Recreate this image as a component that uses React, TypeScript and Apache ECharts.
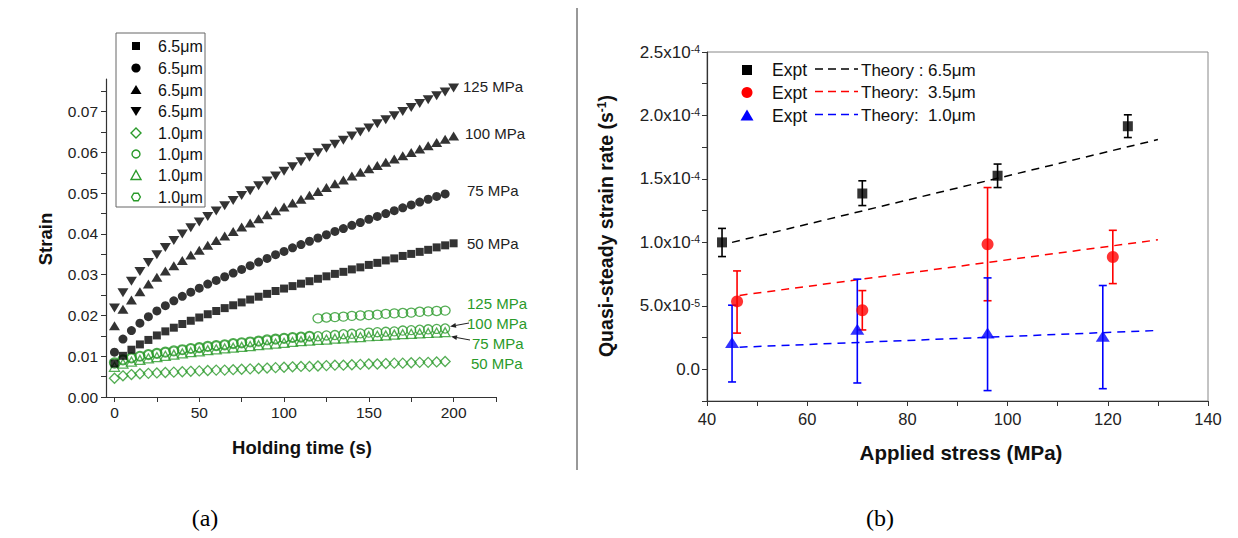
import React, { useEffect, useRef } from "react";
import * as echarts from "echarts";

// ---------- Panel (a): strain vs holding time ----------
const T = [0, 5, 10, 15, 20, 25, 30, 35, 40, 45, 50, 55, 60, 65, 70, 75, 80, 85, 90, 95, 100, 105, 110, 115, 120, 125, 130, 135, 140, 145, 150, 155, 160, 165, 170, 175, 180, 185, 190, 195, 200];

// 6.5 µm (black, filled)
const black50 = [0.0082, 0.0101, 0.0116, 0.0129, 0.0140, 0.0151, 0.0161, 0.0170, 0.0179, 0.0187, 0.0195, 0.0203, 0.0211, 0.0218, 0.0225, 0.0232, 0.0239, 0.0246, 0.0253, 0.0260, 0.0266, 0.0272, 0.0278, 0.0284, 0.0290, 0.0296, 0.0302, 0.0307, 0.0313, 0.0318, 0.0324, 0.0329, 0.0335, 0.0340, 0.0346, 0.0351, 0.0356, 0.0361, 0.0367, 0.0372, 0.0377];
const black75 = [0.0110, 0.0142, 0.0163, 0.0181, 0.0197, 0.0211, 0.0224, 0.0236, 0.0247, 0.0257, 0.0267, 0.0277, 0.0286, 0.0295, 0.0304, 0.0313, 0.0322, 0.0331, 0.0340, 0.0349, 0.0357, 0.0366, 0.0374, 0.0382, 0.0390, 0.0398, 0.0406, 0.0413, 0.0421, 0.0428, 0.0436, 0.0443, 0.0450, 0.0457, 0.0464, 0.0471, 0.0478, 0.0485, 0.0492, 0.0498];
const black100 = [0.0175, 0.0215, 0.0238, 0.0258, 0.0277, 0.0294, 0.0309, 0.0322, 0.0335, 0.0348, 0.0360, 0.0372, 0.0384, 0.0395, 0.0406, 0.0417, 0.0427, 0.0437, 0.0447, 0.0457, 0.0466, 0.0476, 0.0485, 0.0495, 0.0504, 0.0514, 0.0523, 0.0532, 0.0542, 0.0551, 0.0560, 0.0568, 0.0576, 0.0584, 0.0592, 0.0600, 0.0608, 0.0616, 0.0624, 0.0632, 0.0640];
const black125 = [0.0218, 0.0256, 0.0284, 0.0308, 0.0330, 0.0349, 0.0367, 0.0384, 0.0400, 0.0415, 0.0429, 0.0443, 0.0456, 0.0469, 0.0482, 0.0494, 0.0506, 0.0518, 0.0530, 0.0542, 0.0554, 0.0565, 0.0577, 0.0588, 0.0599, 0.0610, 0.0620, 0.0630, 0.0640, 0.0650, 0.0660, 0.0670, 0.0680, 0.0690, 0.0700, 0.0710, 0.0720, 0.0729, 0.0739, 0.0748, 0.0758];

// 1.0 µm (green, open)
const green50 = [0.0046, 0.0052, 0.0055, 0.0057, 0.0058, 0.0059, 0.0060, 0.0061, 0.0062, 0.0063, 0.0064, 0.0065, 0.0066, 0.0066, 0.0067, 0.0068, 0.0069, 0.0070, 0.0071, 0.0072, 0.0073, 0.0074, 0.0075, 0.0075, 0.0076, 0.0077, 0.0078, 0.0078, 0.0079, 0.0080, 0.0081, 0.0081, 0.0082, 0.0083, 0.0083, 0.0084, 0.0085, 0.0085, 0.0086, 0.0087];
const green75 = [0.0074, 0.0082, 0.0087, 0.0091, 0.0095, 0.0098, 0.0101, 0.0104, 0.0107, 0.0110, 0.0112, 0.0115, 0.0117, 0.0119, 0.0121, 0.0123, 0.0125, 0.0127, 0.0129, 0.0131, 0.0133, 0.0135, 0.0137, 0.0138, 0.0140, 0.0141, 0.0143, 0.0144, 0.0146, 0.0147, 0.0149, 0.0150, 0.0151, 0.0153, 0.0154, 0.0155, 0.0156, 0.0157, 0.0158, 0.0159];
const green100 = [0.0082, 0.0090, 0.0095, 0.0099, 0.0103, 0.0106, 0.0109, 0.0112, 0.0115, 0.0118, 0.0120, 0.0123, 0.0125, 0.0127, 0.0130, 0.0132, 0.0134, 0.0136, 0.0139, 0.0141, 0.0143, 0.0145, 0.0146, 0.0148, 0.0149, 0.0151, 0.0152, 0.0154, 0.0155, 0.0156, 0.0158, 0.0159, 0.0160, 0.0161, 0.0163, 0.0164, 0.0165, 0.0166, 0.0167, 0.0168];
const green125 = [0.0085, 0.0092, 0.0097, 0.0101, 0.0105, 0.0108, 0.0111, 0.0114, 0.0117, 0.0120, 0.0122, 0.0125, 0.0127, 0.0129, 0.0132, 0.0134, 0.0136, 0.0138, 0.0141, 0.0143, 0.0145, 0.0147, 0.0148, 0.0150, 0.0193, 0.0195, 0.0196, 0.0197, 0.0199, 0.0200, 0.0201, 0.0202, 0.0204, 0.0205, 0.0206, 0.0207, 0.0209, 0.0210, 0.0211, 0.0212];

const A_X_TICKS = [0, 25, 50, 75, 100, 125, 150, 175, 200, 225];
const A_X_LABELS = [0, 50, 100, 150, 200];
const A_Y_TICKS = [0, 0.005, 0.01, 0.015, 0.02, 0.025, 0.03, 0.035, 0.04, 0.045, 0.05, 0.055, 0.06, 0.065, 0.07, 0.075];
const A_Y_LABELS = [0, 0.01, 0.02, 0.03, 0.04, 0.05, 0.06, 0.07];

// ---------- Panel (b): strain rate vs applied stress ----------
const exptBlackX = [43, 71, 98, 124];
const exptBlackY = [1.0e-4, 1.385e-4, 1.525e-4, 1.915e-4];
const exptBlackLo = [0.888e-4, 1.29e-4, 1.432e-4, 1.826e-4];
const exptBlackHi = [1.11e-4, 1.485e-4, 1.617e-4, 2.005e-4];

const exptRedX = [46, 71, 96, 121];
const exptRedY = [5.35e-5, 4.65e-5, 9.85e-5, 8.85e-5];
const exptRedLo = [2.85e-5, 3.1e-5, 5.4e-5, 6.75e-5];
const exptRedHi = [7.75e-5, 6.2e-5, 1.432e-4, 1.095e-4];

const exptBlueX = [45, 70, 96, 119];
const exptBlueY = [2.1e-5, 3.15e-5, 2.85e-5, 2.6e-5];
const exptBlueLo = [-1.0e-5, -1.08e-5, -1.68e-5, -1.53e-5];
const exptBlueHi = [5.05e-5, 7.1e-5, 7.2e-5, 6.6e-5];

const theoryBlackX = [45, 130];
const theoryBlackY = [1.0e-4, 1.81e-4];
const theoryRedX = [46.5, 130];
const theoryRedY = [5.82e-5, 1.02e-4];
const theoryBlueX = [46.5, 130];
const theoryBlueY = [1.74e-5, 3.06e-5];

const B_X_TICKS = [40, 50, 60, 70, 80, 90, 100, 110, 120, 130, 140];
const B_X_LABELS = [40, 60, 80, 100, 120, 140];
const B_Y_TICKS = [-2.5e-5, 0, 2.5e-5, 5e-5, 7.5e-5, 1e-4, 1.25e-4, 1.5e-4, 1.75e-4, 2e-4, 2.25e-4, 2.5e-4];
const B_Y_LABELS = [0, 5e-5, 1e-4, 1.5e-4, 2e-4, 2.5e-4];

const GREEN = "#2a9a2a";
const FONT = '"Liberation Sans", Arial, sans-serif';
const AX = "#333";

const pairs = (xs: number[], ys: number[]) => ys.map((y, i) => [xs[i], y]);

function txt(text: string, x: number, y: number, o: any = {}) {
  const align = o.align || "left";
  return {
    type: "text",
    x,
    y,
    rotation: o.rot || 0,
    z: 100,
    style: {
      text,
      fill: o.color || "#222",
      font: o.font || `15px ${FONT}`,
      align,
      verticalAlign: "middle",
      textAlign: align,
      textVerticalAlign: "middle",
      rich: o.rich,
    },
  };
}

function arrow(x1: number, y1: number, x2: number, y2: number) {
  const dx = x2 - x1, dy = y2 - y1;
  const L = Math.hypot(dx, dy);
  const ux = dx / L, uy = dy / L;
  const len = 6, half = 2.4;
  const bx = x2 - ux * len, by = y2 - uy * len;
  return [
    { type: "line", z: 100, shape: { x1, y1, x2: bx, y2: by }, style: { stroke: "#222", lineWidth: 1 } },
    {
      type: "polygon",
      z: 100,
      shape: { points: [[x2, y2], [bx - uy * half, by + ux * half], [bx + uy * half, by - ux * half]] },
      style: { fill: "#222" },
    },
  ];
}

function errSeries(xs: number[], lo: number[], hi: number[], color: string) {
  return {
    type: "custom",
    xAxisIndex: 1,
    yAxisIndex: 1,
    z: 3,
    silent: true,
    data: xs.map((x, i) => [x, lo[i], hi[i]]),
    encode: { x: 0, y: [1, 2] },
    renderItem: (_p: any, api: any) => {
      const x = api.value(0);
      const a = api.coord([x, api.value(1)]);
      const b = api.coord([x, api.value(2)]);
      const w = 4;
      const st = { stroke: color, lineWidth: 1.6 };
      return {
        type: "group",
        children: [
          { type: "line", shape: { x1: a[0], y1: a[1], x2: b[0], y2: b[1] }, style: st },
          { type: "line", shape: { x1: a[0] - w, y1: a[1], x2: a[0] + w, y2: a[1] }, style: st },
          { type: "line", shape: { x1: b[0] - w, y1: b[1], x2: b[0] + w, y2: b[1] }, style: st },
        ],
      };
    },
  };
}

function supFmt(v: number) {
  if (Math.abs(v) < 1e-12) return "0.0";
  const e = Math.floor(Math.log10(Math.abs(v)) + 1e-9);
  const m = (v / Math.pow(10, e)).toFixed(1);
  return `${m}x10{sup|${e}}`;
}

export default function App() {
  const ref = useRef<HTMLDivElement>(null);

  useEffect(() => {
    if (!ref.current) return;
    const chart = echarts.init(ref.current, undefined, { renderer: "svg" });

    const filled = (name: string, data: number[], symbol: string, size: any, rotate = 0) => ({
      name,
      type: "scatter",
      xAxisIndex: 0,
      yAxisIndex: 0,
      silent: true,
      symbol,
      symbolSize: size,
      symbolRotate: rotate,
      itemStyle: { color: "#000" },
      data: pairs(T, data),
      z: 4,
    });
    const open = (name: string, data: number[], symbol: string, size: any) => ({
      name,
      type: "scatter",
      xAxisIndex: 0,
      yAxisIndex: 0,
      silent: true,
      symbol,
      symbolSize: size,
      itemStyle: { color: "rgba(0,0,0,0)", borderColor: GREEN, borderWidth: 1.3 },
      data: pairs(T, data),
      z: 3,
    });

    const graphic: any[] = [];
    // separator
    graphic.push({ type: "line", shape: { x1: 577, y1: 8, x2: 577, y2: 470 }, style: { stroke: "#333", lineWidth: 1 } });
    // captions
    graphic.push(txt("(a)", 205, 518, { align: "center", font: `24px "Liberation Serif", "Times New Roman", serif`, color: "#000" }));
    graphic.push(txt("(b)", 880, 518, { align: "center", font: `24px "Liberation Serif", "Times New Roman", serif`, color: "#000" }));
    // axis titles (a)
    graphic.push(txt("Strain", 45, 239, { align: "center", rot: Math.PI / 2, font: `bold 18.5px ${FONT}`, color: "#111" }));
    graphic.push(txt("Holding time (s)", 302, 447, { align: "center", font: `bold 18.5px ${FONT}`, color: "#111" }));
    // axis titles (b)
    graphic.push(txt("Applied stress (MPa)", 961, 452, { align: "center", font: `bold 20.5px ${FONT}`, color: "#111" }));
    graphic.push(
      txt("Quasi-steady strain rate (s{sup|-1})", 606, 226, {
        align: "center",
        rot: Math.PI / 2,
        font: `bold 19.5px ${FONT}`,
        color: "#111",
        rich: { sup: { font: `bold 12px ${FONT}`, fill: "#111", verticalAlign: "top" } },
      })
    );

    // legend (a)
    graphic.push({ type: "rect", shape: { x: 116, y: 33, width: 89, height: 174 }, style: { fill: "#fff", stroke: "#666", lineWidth: 1 }, z: 90 });
    const lx = 136;
    const rows = [46, 68, 90, 111, 133, 154, 175.5, 197];
    graphic.push({ type: "rect", z: 100, shape: { x: lx - 4, y: rows[0] - 4, width: 8, height: 8 }, style: { fill: "#000" } });
    graphic.push({ type: "circle", z: 100, shape: { cx: lx, cy: rows[1], r: 4.6 }, style: { fill: "#000" } });
    graphic.push({ type: "polygon", z: 100, shape: { points: [[lx, rows[2] - 5], [lx + 5.5, rows[2] + 4], [lx - 5.5, rows[2] + 4]] }, style: { fill: "#000" } });
    graphic.push({ type: "polygon", z: 100, shape: { points: [[lx - 5.5, rows[3] - 4], [lx + 5.5, rows[3] - 4], [lx, rows[3] + 5]] }, style: { fill: "#000" } });
    graphic.push({ type: "polygon", z: 100, shape: { points: [[lx, rows[4] - 5], [lx + 5, rows[4]], [lx, rows[4] + 5], [lx - 5, rows[4]]] }, style: { fill: "none", stroke: GREEN, lineWidth: 1.4 } });
    graphic.push({ type: "circle", z: 100, shape: { cx: lx, cy: rows[5], r: 4 }, style: { fill: "none", stroke: GREEN, lineWidth: 1.4 } });
    graphic.push({ type: "polygon", z: 100, shape: { points: [[lx, rows[6] - 5], [lx + 5, rows[6] + 4], [lx - 5, rows[6] + 4]] }, style: { fill: "none", stroke: GREEN, lineWidth: 1.4 } });
    {
      const hex: number[][] = [];
      for (let k = 0; k < 6; k++) {
        const a = (Math.PI / 3) * k;
        hex.push([lx + 4.4 * Math.cos(a), rows[7] + 4.4 * Math.sin(a)]);
      }
      graphic.push({ type: "polygon", z: 100, shape: { points: hex }, style: { fill: "none", stroke: GREEN, lineWidth: 1.4 } });
    }
    const legNames = ["6.5\u03bcm", "6.5\u03bcm", "6.5\u03bcm", "6.5\u03bcm", "1.0\u03bcm", "1.0\u03bcm", "1.0\u03bcm", "1.0\u03bcm"];
    legNames.forEach((n, i) => graphic.push(txt(n, 158, rows[i], { font: `16px ${FONT}`, color: "#111" })));

    // curve labels (a)
    graphic.push(txt("125 MPa", 463, 86, {}));
    graphic.push(txt("100 MPa", 465, 133, {}));
    graphic.push(txt("75 MPa", 467, 190, {}));
    graphic.push(txt("50 MPa", 467, 243, {}));
    graphic.push(txt("125 MPa", 467, 303, { color: GREEN }));
    graphic.push(txt("100 MPa", 467, 323, { color: GREEN }));
    graphic.push(txt("75 MPa", 472, 343, { color: GREEN }));
    graphic.push(txt("50 MPa", 471, 363, { color: GREEN }));
    graphic.push(...arrow(469, 323, 450, 326.5));
    graphic.push(...arrow(470, 340, 451, 336.5));

    // legend (b)
    const bx = 747;
    const brow = [70, 92.5, 115.5];
    graphic.push({ type: "rect", z: 100, shape: { x: bx - 5, y: brow[0] - 5, width: 10, height: 10 }, style: { fill: "#000" } });
    graphic.push({ type: "circle", z: 100, shape: { cx: bx, cy: brow[1], r: 5.5 }, style: { fill: "#ff0000" } });
    graphic.push({ type: "polygon", z: 100, shape: { points: [[bx, brow[2] - 6], [bx + 6.5, brow[2] + 5], [bx - 6.5, brow[2] + 5]] }, style: { fill: "#0000ff" } });
    ["#000", "#ff0000", "#0000ff"].forEach((c, i) => {
      graphic.push(txt("Expt", 772, brow[i], { font: `17.5px ${FONT}`, color: "#111" }));
      graphic.push({ type: "line", z: 100, shape: { x1: 815, y1: brow[i] - 1, x2: 858, y2: brow[i] - 1 }, style: { stroke: c, lineWidth: 1.5, lineDash: [8, 5] } });
    });
    graphic.push(txt("Theory : 6.5\u03bcm", 861, brow[0], { font: `17px ${FONT}`, color: "#111" }));
    graphic.push(txt("Theory:  3.5\u03bcm", 861, brow[1], { font: `17px ${FONT}`, color: "#111" }));
    graphic.push(txt("Theory:  1.0\u03bcm", 861, brow[2], { font: `17px ${FONT}`, color: "#111" }));

    const axisBase = (o: any) => ({
      type: "value",
      axisLine: { show: true, onZero: false, lineStyle: { color: AX, width: 1.2 } },
      splitLine: { show: false },
      ...o,
    });

    const option: any = {
      animation: false,
      backgroundColor: "#fff",
      textStyle: { fontFamily: FONT },
      grid: [
        { left: 106, top: 79, width: 390, height: 318, show: false, containLabel: false, outerBoundsMode: "none" },
        { left: 707, top: 52, width: 501, height: 349, show: true, borderColor: "#888", borderWidth: 1, backgroundColor: "rgba(0,0,0,0)", containLabel: false, outerBoundsMode: "none" },
      ],
      xAxis: [
        axisBase({
          gridIndex: 0,
          min: -5,
          max: 225,
          axisTick: { show: true, inside: false, length: 5, customValues: A_X_TICKS, lineStyle: { color: AX } },
          axisLabel: { customValues: A_X_LABELS, margin: 7, fontSize: 15.5, color: "#222", fontFamily: FONT },
        }),
        axisBase({
          gridIndex: 1,
          min: 40,
          max: 140,
          axisTick: { show: true, inside: false, length: 5, customValues: B_X_TICKS, lineStyle: { color: AX } },
          axisLabel: { customValues: B_X_LABELS, margin: 9, fontSize: 16.5, color: "#222", fontFamily: FONT },
        }),
      ],
      yAxis: [
        axisBase({
          gridIndex: 0,
          min: 0,
          max: 0.078,
          axisTick: { show: true, inside: false, length: 5, customValues: A_Y_TICKS, lineStyle: { color: AX } },
          axisLabel: { customValues: A_Y_LABELS, margin: 8, fontSize: 15.5, color: "#222", fontFamily: FONT, formatter: (v: number) => v.toFixed(2) },
        }),
        axisBase({
          gridIndex: 1,
          min: -2.5e-5,
          max: 2.5e-4,
          axisTick: { show: true, inside: false, length: 5, customValues: B_Y_TICKS, lineStyle: { color: AX } },
          axisLabel: {
            customValues: B_Y_LABELS,
            margin: 7,
            fontSize: 17,
            color: "#222",
            fontFamily: FONT,
            formatter: supFmt,
            rich: { sup: { fontSize: 10.5, color: "#222", fontFamily: FONT, verticalAlign: "top", lineHeight: 11 } },
          },
        }),
      ],
      series: [
        open("g125", green125, "circle", [10, 9]),
        open("g50", green50, "diamond", [10, 10]),
        open("g75", green75, "triangle", [10, 9]),
        open("g100", green100, "circle", 9),
        filled("b50", black50, "rect", 8),
        filled("b75", black75, "circle", 9),
        filled("b100", black100, "triangle", [11, 9]),
        filled("b125", black125, "triangle", [11, 9], 180),

        { type: "line", xAxisIndex: 1, yAxisIndex: 1, silent: true, showSymbol: false, symbol: "none", data: pairs(theoryBlackX, theoryBlackY), lineStyle: { color: "#000", width: 1.5, type: [8, 6] }, z: 2 },
        { type: "line", xAxisIndex: 1, yAxisIndex: 1, silent: true, showSymbol: false, symbol: "none", data: pairs(theoryRedX, theoryRedY), lineStyle: { color: "#ff0000", width: 1.5, type: [8, 6] }, z: 2 },
        { type: "line", xAxisIndex: 1, yAxisIndex: 1, silent: true, showSymbol: false, symbol: "none", data: pairs(theoryBlueX, theoryBlueY), lineStyle: { color: "#0000ff", width: 1.5, type: [8, 6] }, z: 2 },

        errSeries(exptBlackX, exptBlackLo, exptBlackHi, "#000"),
        errSeries(exptRedX, exptRedLo, exptRedHi, "#ff0000"),
        errSeries(exptBlueX, exptBlueLo, exptBlueHi, "#0000ff"),

        { type: "scatter", xAxisIndex: 1, yAxisIndex: 1, silent: true, symbol: "rect", symbolSize: 10, itemStyle: { color: "#000" }, data: pairs(exptBlackX, exptBlackY), z: 5 },
        { type: "scatter", xAxisIndex: 1, yAxisIndex: 1, silent: true, symbol: "circle", symbolSize: 12, itemStyle: { color: "#ff0000" }, data: pairs(exptRedX, exptRedY), z: 5 },
        { type: "scatter", xAxisIndex: 1, yAxisIndex: 1, silent: true, symbol: "triangle", symbolSize: [14, 11], itemStyle: { color: "#0000ff" }, data: pairs(exptBlueX, exptBlueY), z: 5 },
      ],
      graphic: { elements: graphic },
    };

    chart.setOption(option);
    return () => chart.dispose();
  }, []);

  return (
    <div
      ref={ref}
      style={{ position: "fixed", left: 0, top: 0, width: 1238, height: 538, background: "#fff" }}
    />
  );
}
